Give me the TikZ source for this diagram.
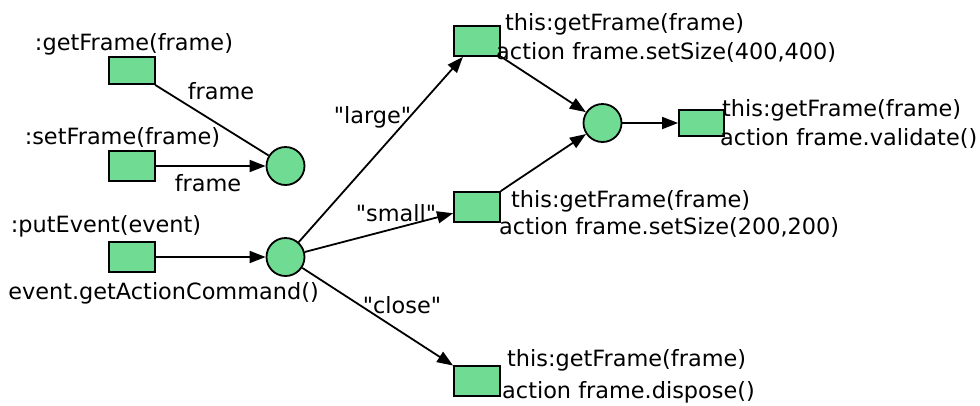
\documentclass[tikz,border=0pt]{standalone}
\usepackage{fontspec}
\setmainfont{DejaVu Sans}[Ligatures=TeXOff]
\usetikzlibrary{arrows.meta}
\definecolor{nodegreen}{RGB}{112,219,147}
\tikzset{
  box/.style={draw=black, fill=nodegreen, line width=1.8pt, minimum width=46pt, minimum height=30pt, inner sep=0pt, rectangle},
  place/.style={draw=black, fill=nodegreen, line width=1.8pt, circle, minimum size=38pt, inner sep=0pt},
  txt/.style={inner sep=0pt, font=\fontsize{22.4}{26}\selectfont},
  conn/.style={line width=1.8pt, draw=black},
  arr/.style={conn, -{Triangle[length=16pt,width=12pt]}}
}
\begin{document}
\begin{tikzpicture}[x=1pt,y=-1pt]
\useasboundingbox (0,0) rectangle (980,405);
% boxes
\node[box, minimum height=27pt] (bgf) at (132,70.5) {};
\node[box] (bsf) at (132,166) {};
\node[box] (bpe) at (132,257) {};
\node[box] (blarge) at (477,41) {};
\node[box] (bsmall) at (477,207) {};
\node[box] (bdispose) at (477,381) {};
\node[box, minimum width=45pt, minimum height=26pt] (bvalid) at (701.5,123) {};
% places
\node[place] (c1) at (285.5,166) {};
\node[place] (c2) at (285.5,257) {};
\node[place] (c3) at (602.5,123) {};
% connectors
\draw[conn] (bgf) -- (c1);
\draw[arr] (bsf) -- (c1);
\draw[arr] (bpe) -- (c2);
\draw[arr] (c2) -- (blarge);
\draw[arr] (c2) -- (bsmall);
\draw[arr] (c2) -- (bdispose);
\draw[arr] (blarge) -- (c3);
\draw[arr] (bsmall) -- (c3);
\draw[arr] (c3) -- (bvalid);
% labels
\node[txt, anchor=base] (lgf) at (134,50) {:getFrame(frame)};
\node[txt, anchor=base] (lfr1) at (221,99) {frame};
\node[txt, anchor=base] (lsf) at (122.5,144) {:setFrame(frame)};
\node[txt, anchor=base] (lfr2) at (208,191) {frame};
\node[txt, anchor=base] (lpe) at (106,232) {:putEvent(event)};
\node[txt, anchor=base] (lgac) at (163.5,299) {event.getActionCommand()};
\node[txt, anchor=base] (llarge) at (372.5,123) {"large"};
\node[txt, anchor=base] (lsmall) at (396,221) {"small"};
\node[txt, anchor=base] (lclose) at (402,313) {"close"};
\node[txt, anchor=base west] (t1a) at (505,30) {this:getFrame(frame)};
\node[txt, anchor=base west] (t1b) at (496,59) {action frame.setSize(400,400)};
\node[txt, anchor=base west] (t2a) at (722,116) {this:getFrame(frame)};
\node[txt, anchor=base west] (t2b) at (720,145) {action frame.validate()};
\node[txt, anchor=base west] (t3a) at (511,207) {this:getFrame(frame)};
\node[txt, anchor=base west] (t3b) at (499,234) {action frame.setSize(200,200)};
\node[txt, anchor=base west] (t4a) at (507,366) {this:getFrame(frame)};
\node[txt, anchor=base west] (t4b) at (502,398) {action frame.dispose()};
\end{tikzpicture}
\end{document}
